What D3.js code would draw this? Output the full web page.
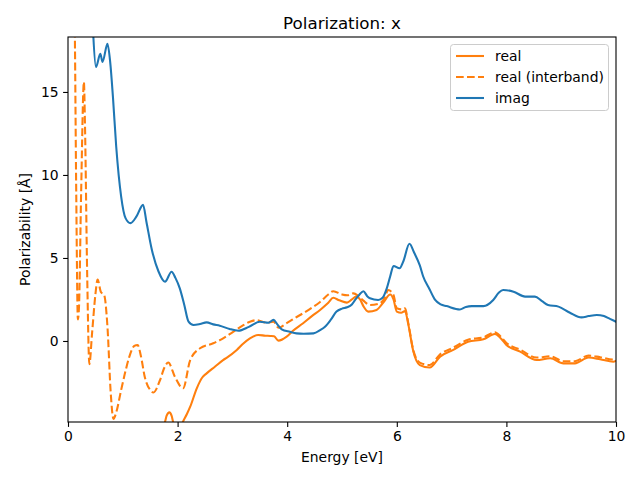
<!DOCTYPE html>
<html><head><meta charset="utf-8">
<script src="https://cdn.jsdelivr.net/npm/d3@7"></script>
<style>body{margin:0;background:#fff}svg{display:block}text{font-family:"DejaVu Sans",sans-serif;fill:#000}</style>
</head><body><svg id="c" width="640" height="480"></svg>
<script>
// ---- data ----
const title = "Polarization: x";
const xLabel = "Energy [eV]";
const yLabel = "Polarizability [Å]";
const xTicks = [0, 2, 4, 6, 8, 10];
const yTicks = [0, 5, 10, 15];
const seriesNames = ["real", "real (interband)", "imag"];

const imagE = [0.30,0.40,0.46,0.51,0.59,0.63,0.72,0.77,0.82,0.88,0.97,1.05,1.14,1.25,1.37,1.43,1.53,1.65,1.77,1.89,1.96,2.04,2.12,2.20,2.29,2.41,2.53,2.65,2.77,2.95,3.11,3.30,3.50,3.66,3.75,3.82,3.90,4.05,4.17,4.30,4.48,4.60,4.69,4.80,4.90,5.00,5.09,5.18,5.24,5.32,5.39,5.46,5.51,5.66,5.74,5.82,5.88,5.94,6.05,6.12,6.23,6.32,6.42,6.48,6.60,6.70,6.80,6.91,7.15,7.26,7.37,7.58,7.76,7.86,7.94,8.13,8.34,8.52,8.65,8.76,8.95,9.16,9.37,9.50,9.65,9.78,9.89,10.0];
const imagV = [40,24,18.5,16.5,17.3,16.8,17.9,16.8,14.7,11.7,8.7,7.4,7.1,7.5,8.2,7.2,5.5,4.2,3.57,4.17,3.8,3.17,2.2,1.16,0.96,1.02,1.12,1.0,0.92,0.72,0.62,0.85,1.16,1.1,1.27,1.0,0.7,0.55,0.46,0.44,0.46,0.65,0.86,1.3,1.77,1.95,2.03,2.2,2.47,2.8,3.0,2.7,2.57,2.47,2.6,3.2,3.9,4.52,4.38,4.8,5.86,5.3,4.55,3.9,3.1,2.47,2.2,2.1,1.9,2.05,2.1,2.1,2.47,2.9,3.07,2.97,2.67,2.67,2.4,2.17,2.07,1.7,1.42,1.5,1.57,1.5,1.33,1.16];

const realE = [0.10,0.50,1.00,1.50,1.70,1.77,1.80,1.85,1.89,1.92,2.00,2.10,2.17,2.23,2.35,2.45,2.53,2.68,2.83,2.90,3.08,3.20,3.32,3.47,3.60,3.69,3.76,3.84,3.99,4.10,4.29,4.45,4.60,4.75,4.84,4.95,5.09,5.18,5.26,5.33,5.39,5.48,5.63,5.75,5.88,5.94,6.00,6.08,6.15,6.21,6.30,6.42,6.60,6.79,7.03,7.30,7.58,7.79,7.90,8.00,8.25,8.55,8.80,9.04,9.25,9.50,9.71,9.95,10.0];
const realV = [-30,-20,-10,-6,-5.6,-4.88,-4.5,-4.3,-4.5,-4.9,-5.6,-4.85,-4.4,-3.96,-2.85,-2.2,-1.95,-1.55,-1.15,-1.0,-0.54,-0.15,0.16,0.36,0.32,0.3,0.28,0.02,0.26,0.6,1.07,1.5,1.87,2.3,2.6,2.45,2.31,2.5,2.67,2.5,2.1,1.77,1.87,2.3,2.8,2.5,1.77,1.7,1.8,1.0,-0.6,-1.45,-1.6,-0.94,-0.54,-0.04,0.1,0.42,0.15,-0.24,-0.64,-1.15,-1.04,-1.35,-1.35,-1.0,-1.1,-1.25,-1.2];

const interE = [0.00,0.07,0.12,0.15,0.18,0.20,0.24,0.29,0.31,0.35,0.39,0.44,0.50,0.54,0.60,0.66,0.72,0.78,0.83,0.88,0.97,1.05,1.12,1.21,1.27,1.33,1.40,1.50,1.56,1.68,1.76,1.83,1.95,2.10,2.23,2.41,2.65,2.80,3.02,3.20,3.32,3.44,3.63,3.75,3.84,3.99,4.15,4.29,4.45,4.60,4.75,4.84,5.00,5.10,5.21,5.30,5.39,5.51,5.69,5.78,5.84,5.94,6.00,6.10,6.15,6.21,6.30,6.42,6.60,6.79,7.03,7.30,7.58,7.79,7.90,8.00,8.25,8.55,8.80,9.04,9.25,9.50,9.71,9.95,10.0];
const interV = [30,26,20,9,1.3,2,9,15.6,13,4,-1.4,0.5,2.8,3.7,2.95,2.77,0.86,-3.15,-4.7,-4.3,-2.95,-1.8,-0.94,-0.3,-0.24,-0.9,-2.15,-2.95,-3.1,-2.35,-1.6,-1.3,-2.15,-2.85,-1.15,-0.44,-0.14,0.1,0.56,0.95,1.16,1.25,1.1,1.16,0.8,1.07,1.4,1.67,2.0,2.35,2.8,3.0,2.8,2.75,2.87,2.7,2.43,2.17,2.27,2.6,3.07,2.77,1.97,1.9,1.97,1.07,-0.54,-1.3,-1.45,-0.8,-0.4,0.08,0.22,0.52,0.25,-0.12,-0.52,-1.0,-0.92,-1.22,-1.22,-0.88,-0.98,-1.12,-1.1];

// ---- drawing ----
const orange = "#ff7f0e", blue = "#1f77b4";
const L = 68, R = 616, T = 37, B = 422;
const svg = d3.select("#c");
const x = d3.scaleLinear().domain([0, 10]).range([L, R]);
const y = d3.scaleLinear().domain([-4.88, 18.31]).range([B, T]);

svg.append("defs").append("clipPath").attr("id", "clip")
  .append("rect").attr("x", L).attr("y", T).attr("width", R - L).attr("height", B - T);

const line = d3.line().x(d => x(d[0])).y(d => y(d[1])).curve(d3.curveMonotoneX);
const zip = (a, b) => a.map((v, i) => [v, b[i]]);

const g = svg.append("g").attr("clip-path", "url(#clip)");
g.append("path").attr("d", line(zip(realE, realV))).attr("fill", "none")
  .attr("stroke", orange).attr("stroke-width", 2.08).attr("stroke-linecap", "square");
g.append("path").attr("d", line(zip(interE, interV))).attr("fill", "none")
  .attr("stroke", orange).attr("stroke-width", 2.08).attr("stroke-dasharray", "7.7,3.3");
g.append("path").attr("d", line(zip(imagE, imagV))).attr("fill", "none")
  .attr("stroke", blue).attr("stroke-width", 2.08).attr("stroke-linecap", "square");

// axes
const xa = svg.append("g").attr("transform", `translate(0,${B})`)
  .call(d3.axisBottom(x).tickValues(xTicks).tickSize(4.9).tickPadding(4.5).tickFormat(d3.format("d")));
const ya = svg.append("g").attr("transform", `translate(${L},0)`)
  .call(d3.axisLeft(y).tickValues(yTicks).tickSize(4.9).tickPadding(4.5).tickFormat(d3.format("d")));
[xa, ya].forEach(a => {
  a.select(".domain").remove();
  a.selectAll("line").attr("stroke", "#000").attr("stroke-width", 1.1);
  a.selectAll("text").attr("font-size", 13.9).attr("font-family", "DejaVu Sans").attr("fill", "#000");
});
svg.append("rect").attr("x", L).attr("y", T).attr("width", R - L).attr("height", B - T)
  .attr("fill", "none").attr("stroke", "#000").attr("stroke-width", 1.1);

svg.append("text").attr("x", (L + R) / 2).attr("y", 29).attr("text-anchor", "middle")
  .attr("font-size", 16.7).text(title);
svg.append("text").attr("x", (L + R) / 2).attr("y", 462).attr("text-anchor", "middle")
  .attr("font-size", 13.9).text(xLabel);
svg.append("text").attr("transform", `translate(30,${(T + B) / 2}) rotate(-90)`)
  .attr("text-anchor", "middle").attr("font-size", 13.9).text(yLabel);

// legend
const lg = svg.append("g");
lg.append("rect").attr("x", 450.5).attr("y", 44.5).attr("width", 158).attr("height", 66)
  .attr("rx", 3).attr("fill", "#fff").attr("fill-opacity", 0.8).attr("stroke", "#ccc").attr("stroke-width", 1);
const styles = [{c: orange, d: null}, {c: orange, d: "7.7,3.3"}, {c: blue, d: null}];
seriesNames.forEach((n, i) => {
  const yy = 56 + i * 21;
  lg.append("line").attr("x1", 456).attr("x2", 484).attr("y1", yy).attr("y2", yy)
    .attr("stroke", styles[i].c).attr("stroke-width", 2.08).attr("stroke-dasharray", styles[i].d);
  lg.append("text").attr("x", 495).attr("y", yy + 5).attr("font-size", 13.9).text(n);
});
</script></body></html>
